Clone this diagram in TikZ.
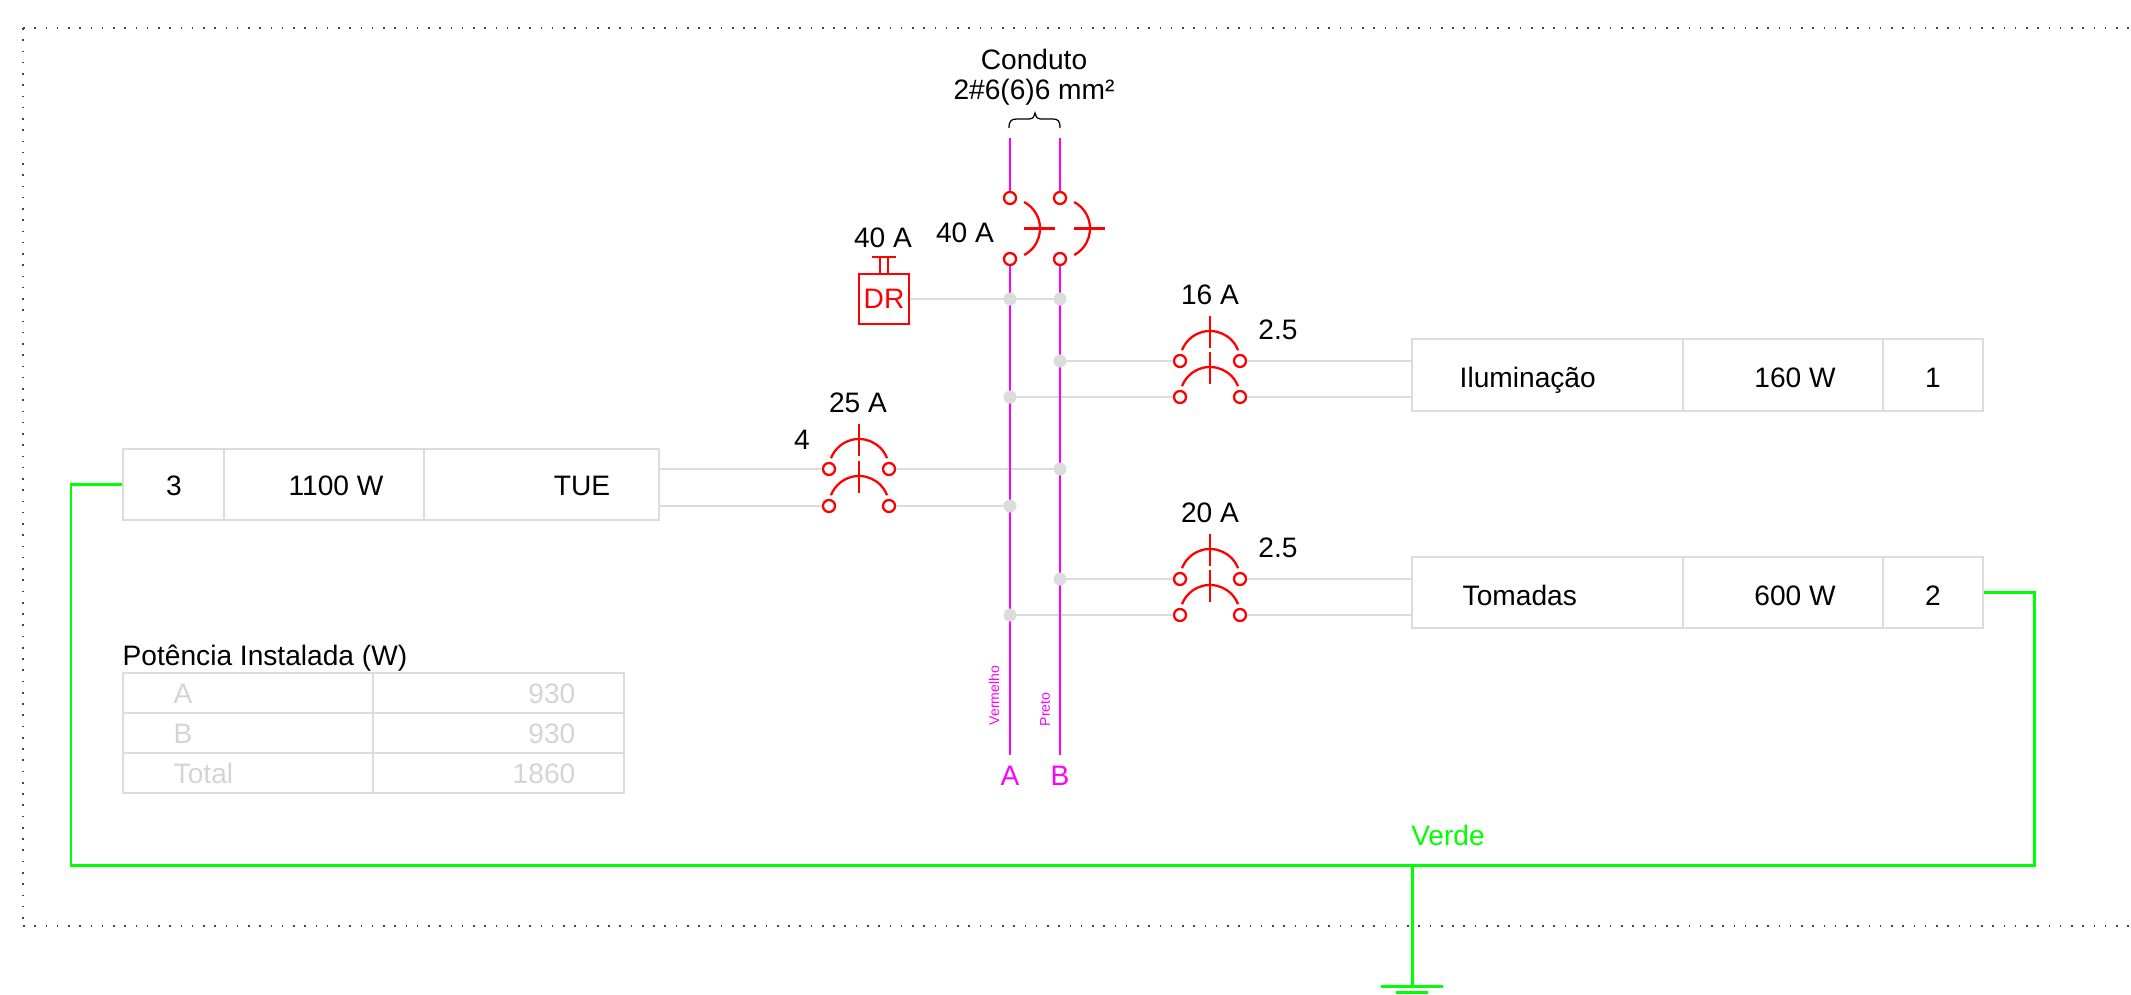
\documentclass[tikz,border=0pt]{standalone}
\usepackage{fontspec}
\setmainfont{Liberation Sans}
\definecolor{rd}{RGB}{255,0,0}
\definecolor{mg}{RGB}{255,0,255}
\definecolor{gn}{RGB}{0,255,0}
\definecolor{lg}{RGB}{220,220,220}
\definecolor{tg}{RGB}{212,212,212}
\definecolor{dotc}{RGB}{70,70,70}
\newcommand{\hbrk}[3]{%
  \node[bcirc] (#1-l) at (#2-30,#3) {};
  \node[bcirc] (#1-r) at (#2+30,#3) {};
  \draw[rline] (#2,#3) ++(21:0.3cm) arc[start angle=21,end angle=159,radius=0.3cm];
  \draw[rline] (#2,#3-45) -- (#2,#3-13);}
\newcommand{\vbrk}[3]{%
  \node[bcirc] (#1-t) at (#2,#3-30.5) {};
  \node[bcirc] (#1-b) at (#2,#3+30.5) {};
  \draw[rline] (#2,#3) ++(-62:0.3cm) arc[start angle=-62,end angle=62,radius=0.3cm];
  \draw[rline] (#2+14,#3) -- (#2+45,#3);}
\begin{document}
\begin{tikzpicture}[x=0.01cm,y=-0.01cm,
  txt/.style={font=\fontsize{8}{9.6}\selectfont, inner sep=0pt, anchor=base},
  small/.style={font=\fontsize{4}{4.8}\selectfont, inner sep=0pt, text=mg},
  rline/.style={draw=rd, line width=0.65pt},
  bcirc/.style={circle, draw=rd, line width=0.65pt, fill=white, minimum size=0.12cm, inner sep=0pt},
  gwire/.style={draw=lg, line width=0.55pt},
  bus/.style={draw=mg, line width=0.8pt},
  pe/.style={draw=gn, line width=0.85pt},
  box/.style={draw=lg, line width=0.55pt, rectangle, inner sep=0pt},
  jdot/.style={circle, fill=lg, minimum size=0.13cm, inner sep=0pt},
  border/.style={draw=dotc, line width=0.45pt, dash pattern=on 0.45pt off 2.75pt}]
\useasboundingbox (0,0) rectangle (2131,994);

% dotted border
\draw[border] (23,28) -- (2131,28);
\draw[border] (23,28) -- (23,926);
\draw[border] (23,926) -- (2131,926);

% conduit label and brace
\node[txt] (cond1) at (1034,70) {Conduto};
\node[txt] (cond2) at (1034,100) {2\#6(6)6 mm²};
\draw[black, line width=0.35pt] (1009,128) .. controls (1009,121) and (1011,119) .. (1017,119) -- (1029,119) .. controls (1033,119) and (1035,116) .. (1035,113) .. controls (1035,116) and (1037,119) .. (1041,119) -- (1053,119) .. controls (1058,119) and (1060,121) .. (1060,128);

% boxes
\node[box, minimum width=5.36cm, minimum height=0.71cm] (tue) at (391,484.5) {};
\draw[draw=lg, line width=0.55pt] (224,449) -- (224,520) (424,449) -- (424,520);
\node[txt] (tue1) at (174,495) {3};
\node[txt] (tue2) at (336,495) {1100 W};
\node[txt] (tue3) at (582,495) {TUE};

\node[box, minimum width=5.71cm, minimum height=0.72cm] (ilum) at (1697.5,375) {};
\draw[draw=lg, line width=0.55pt] (1683,339) -- (1683,411) (1883,339) -- (1883,411);
\node[txt, anchor=base west] (ilum1) at (1459,387) {Iluminação};
\node[txt] (ilum2) at (1795,387) {160 W};
\node[txt] (ilum3) at (1933,387) {1};

\node[box, minimum width=5.71cm, minimum height=0.71cm] (tom) at (1697.5,592.5) {};
\draw[draw=lg, line width=0.55pt] (1683,557) -- (1683,628) (1883,557) -- (1883,628);
\node[txt, anchor=base west] (tom1) at (1462,605) {Tomadas};
\node[txt] (tom2) at (1795,605) {600 W};
\node[txt] (tom3) at (1933,605) {2};

% DR
\node[box, draw=rd, line width=0.65pt, minimum width=0.5cm, minimum height=0.5cm, text=rd, font=\fontsize{8}{9.6}\selectfont] (dr) at (884,299) {DR};
\draw[rline] ([xshift=-0.04cm]dr.north) -- ++(0,-16);
\draw[rline] ([xshift=0.04cm]dr.north) -- ++(0,-16);
\draw[rline] ([xshift=-0.12cm,yshift=0.16cm]dr.north) -- ++(24,0);
\node[txt] (drlab) at (883,248) {40 A};

% breakers
\vbrk{mA}{1010}{228.5}
\vbrk{mB}{1060}{228.5}
\node[txt] (mlab) at (965,242) {40 A};

\hbrk{b16u}{1210}{361}
\hbrk{b16d}{1210}{397}
\node[txt] (l16) at (1210,304) {16 A};
\node[txt] (s16) at (1278,339) {2.5};

\hbrk{b25u}{859}{469}
\hbrk{b25d}{859}{506}
\node[txt] (l25) at (858,412) {25 A};
\node[txt] (s25) at (802,449) {4};

\hbrk{b20u}{1210}{579}
\hbrk{b20d}{1210}{615}
\node[txt] (l20) at (1210,522) {20 A};
\node[txt] (s20) at (1278,557) {2.5};

% junction coordinates
\coordinate (Atop) at (1010,138);
\coordinate (Btop) at (1060,138);
\coordinate (Abot) at (1010,755);
\coordinate (Bbot) at (1060,755);
\coordinate (jA1) at (1010,299);
\coordinate (jB1) at (1060,299);
\coordinate (jB2) at (1060,361);
\coordinate (jA2) at (1010,397);
\coordinate (jB3) at (1060,469);
\coordinate (jA3) at (1010,506);
\coordinate (jB4) at (1060,579);
\coordinate (jA4) at (1010,615);

% gray wires
\draw[gwire] (dr.east) -- (jB1);
\draw[gwire] (jB2) -- (b16u-l);
\draw[gwire] (b16u-r) -- (b16u-r -| ilum.west);
\draw[gwire] (jA2) -- (b16d-l);
\draw[gwire] (b16d-r) -- (b16d-r -| ilum.west);
\draw[gwire] (jB4) -- (b20u-l);
\draw[gwire] (b20u-r) -- (b20u-r -| tom.west);
\draw[gwire] (jA4) -- (b20d-l);
\draw[gwire] (b20d-r) -- (b20d-r -| tom.west);
\draw[gwire] (b25u-l -| tue.east) -- (b25u-l);
\draw[gwire] (b25u-r) -- (jB3);
\draw[gwire] (b25d-l -| tue.east) -- (b25d-l);
\draw[gwire] (b25d-r) -- (jA3);

% busbars
\draw[bus] (Atop) -- (mA-t);
\draw[bus] (mA-b) -- (Abot);
\draw[bus] (Btop) -- (mB-t);
\draw[bus] (mB-b) -- (Bbot);
\node[txt, text=mg] (labA) at (1010,785) {A};
\node[txt, text=mg] (labB) at (1060,785) {B};
\node[small, rotate=90, anchor=west] (verm) at (994,726) {Vermelho};
\node[small, rotate=90, anchor=west] (pret) at (1045,727) {Preto};

% junction dots
\foreach \j in {jA1,jB1,jB2,jA2,jB3,jA3,jB4,jA4} \node[jdot] at (\j) {};

% earth conductor
\coordinate (pe1) at (71,484.5);
\coordinate (pe2) at (71,865);
\coordinate (pe3) at (2034,865);
\coordinate (pe4) at (2034,592.5);
\draw[pe] (tue.west) -- (pe1) -- (pe2) -- (pe3) -- (pe4) -- (tom.east);
\coordinate (gtop) at (1412,865);
\coordinate (gnd) at (1412,986);
\draw[pe] (gtop) -- (gnd);
\draw[pe] ([xshift=-0.31cm]gnd) -- ([xshift=0.31cm]gnd);
\draw[pe] ([xshift=-0.16cm,yshift=-0.06cm]gnd) -- ([xshift=0.16cm,yshift=-0.06cm]gnd);
\node[txt, text=gn] (verde) at (1448,845) {Verde};

% installed power table
\node[txt, anchor=base west] (ptitle) at (122,665) {Potência Instalada (W)};
\node[box, minimum width=5.01cm, minimum height=1.2cm] (tab) at (373.5,733) {};
\draw[draw=lg, line width=0.55pt] (123,713) -- (624,713) (123,753) -- (624,753) (373,673) -- (373,793);
\node[txt, anchor=base west, text=tg] (tA) at (173,703) {A};
\node[txt, anchor=base east, text=tg] (vA) at (576,703) {930};
\node[txt, anchor=base west, text=tg] (tB) at (173,743) {B};
\node[txt, anchor=base east, text=tg] (vB) at (576,743) {930};
\node[txt, anchor=base west, text=tg] (tT) at (173,783) {Total};
\node[txt, anchor=base east, text=tg] (vT) at (576,783) {1860};
\end{tikzpicture}
\end{document}
